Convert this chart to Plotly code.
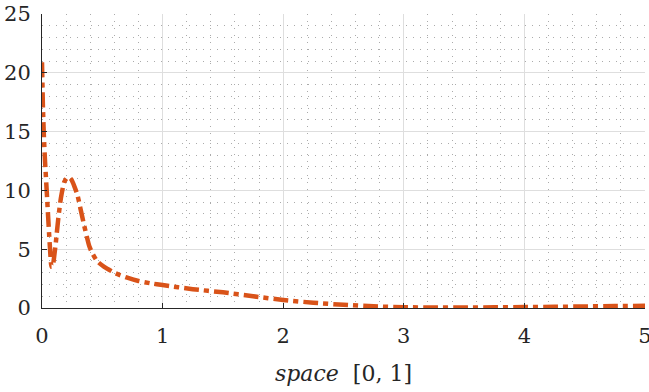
import plotly.graph_objects as go

x_vals = [0.0, 0.008, 0.016, 0.025, 0.04, 0.055, 0.068, 0.079, 0.09, 0.1, 0.115, 0.135,
          0.156, 0.184, 0.205, 0.225, 0.245, 0.27, 0.294, 0.32, 0.35, 0.394, 0.42, 0.46,
          0.516, 0.61, 0.7, 0.8, 0.9, 1.0, 1.25, 1.5, 1.75, 2.0, 2.25, 2.5, 2.75, 3.0,
          3.25, 3.5, 3.75, 4.0, 4.25, 4.5, 4.75, 5.0]
y_vals = [20.9, 17.0, 14.5, 12.5, 9.8, 7.0, 4.8, 3.5, 3.6, 4.3, 5.6, 7.6,
          9.3, 10.7, 11.05, 11.1, 10.9, 10.3, 9.6, 8.4, 7.0, 5.2, 4.6, 3.95,
          3.5, 2.95, 2.6, 2.3, 2.1, 1.95, 1.6, 1.33, 1.0, 0.68, 0.45, 0.27, 0.14, 0.07,
          0.04, 0.04, 0.06, 0.08, 0.1, 0.13, 0.16, 0.19]

x_ticks = [0, 1, 2, 3, 4, 5]
y_ticks = [0, 5, 10, 15, 20, 25]
x_label = "<i>space</i>  [0, 1]"

FONT = "DejaVu Serif"
INK = "#262626"

fig = go.Figure()
fig.add_trace(go.Scatter(
    x=x_vals, y=y_vals, mode="lines",
    line=dict(color="#D95319", width=4.5, dash="15px,5px,5px,5px", shape="spline", smoothing=0.6),
    showlegend=False, hoverinfo="skip",
))

axis_common = dict(
    showline=True, linecolor=INK, linewidth=1,
    ticks="inside", ticklen=5, tickcolor=INK, tickwidth=1,
    showgrid=True, gridcolor="#dedede", gridwidth=1,
    zeroline=False, mirror=False, automargin=False,
    tickfont=dict(family=FONT, size=21, color=INK),
    ticklabeloverflow="allow",
)

fig.update_xaxes(
    range=[0, 5], tickvals=x_ticks, ticktext=[str(v) for v in x_ticks],
    minor=dict(dtick=0.2, tick0=0, showgrid=True, gridcolor="#ababab", griddash="1px,6px", gridwidth=1, ticks=""),
    title=dict(text=x_label, font=dict(family=FONT, size=22, color=INK), standoff=18),
    ticklabelstandoff=9,
    **axis_common,
)
fig.update_yaxes(
    range=[0, 25], tickvals=y_ticks, ticktext=[str(v) for v in y_ticks],
    minor=dict(dtick=1, tick0=0, showgrid=True, gridcolor="#ababab", griddash="1px,6px", gridwidth=1, ticks=""),
    ticklabelstandoff=6,
    **axis_common,
)

fig.update_layout(
    width=649, height=392,
    margin=dict(l=42, r=4, t=14, b=84),
    paper_bgcolor="white", plot_bgcolor="white",
    font=dict(family=FONT, color=INK),
)

fig.write_html("out.html", config={"displayModeBar": False},
               post_script="document.body.style.margin='0';document.body.style.padding='0';")
